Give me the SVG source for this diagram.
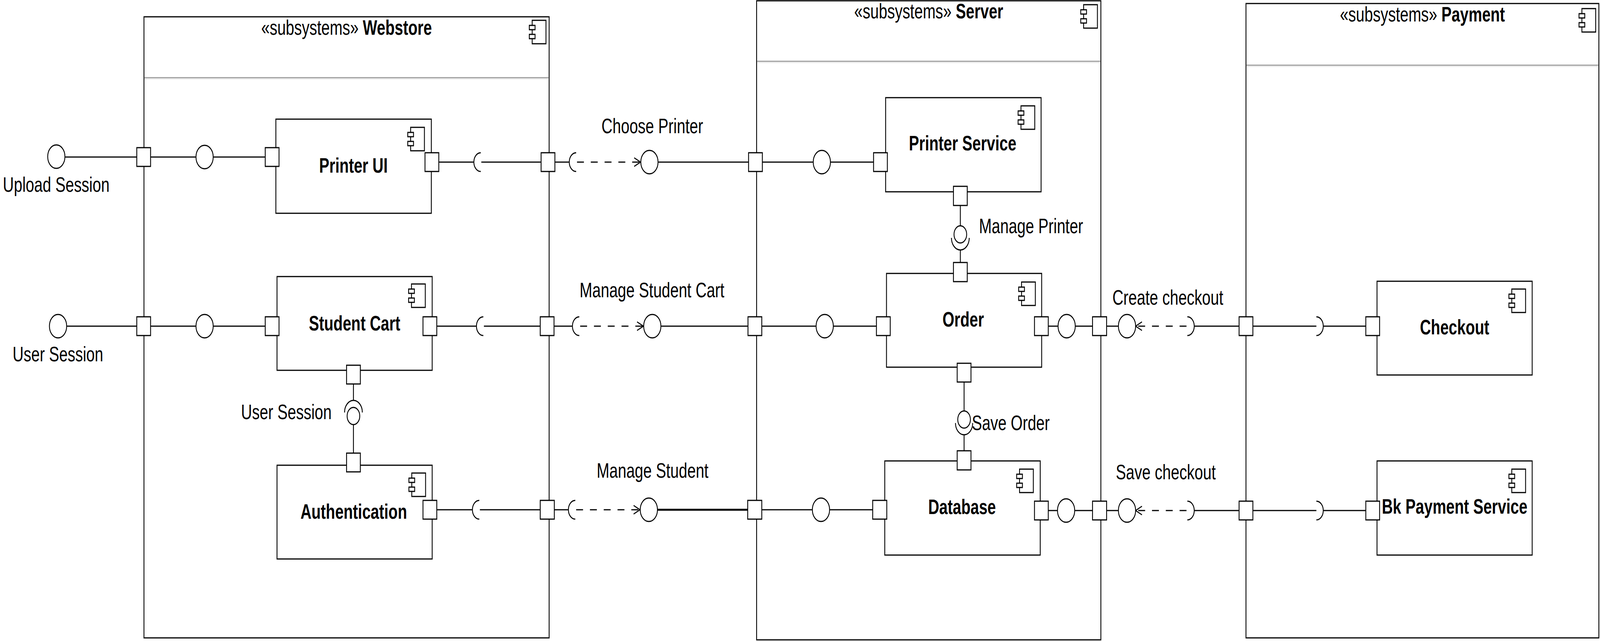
<svg xmlns="http://www.w3.org/2000/svg" xmlns:xlink="http://www.w3.org/1999/xlink" width="5568" height="1641" viewBox="0 0 5568 1641" preserveAspectRatio="none">
<style>
svg{width:100vw;height:100vh;display:block}
.box{fill:#fff;stroke:#000;stroke-width:3}
.port{fill:#fff;stroke:#000;stroke-width:3}
.ln{fill:none;stroke:#000;stroke-width:3}
.ball{fill:#fff;stroke:#000;stroke-width:3}
.dash{fill:none;stroke:#000;stroke-width:3;stroke-dasharray:24 24}
.sep{stroke:#9a9a9a;stroke-width:3}
.sep2{stroke:#ececec;stroke-width:3}
.t{font-family:"Liberation Sans",Arial,sans-serif;font-size:53px;fill:#000}
.bd{font-weight:bold}
</style>
<defs>
<g id="ic" fill="#fff" stroke="#000" stroke-width="3">
<rect x="10" y="0" width="48" height="60"/>
<rect x="0" y="13" width="20" height="11"/>
<rect x="0" y="36" width="20" height="11"/>
</g>
<marker id="arr" markerUnits="userSpaceOnUse" markerWidth="40" markerHeight="40" viewBox="-30 -20 40 40" refX="0" refY="0" orient="auto">
<path d="M-22,-11 L0,0 L-22,11" fill="none" stroke="#000" stroke-width="3" stroke-dasharray="none"/>
</marker>
</defs>
<rect width="5568" height="1641" fill="#fff"/>

<g id="webstore">
<rect class="box" x="501" y="43" width="1410" height="1590"/>
<line class="sep" x1="503" y1="199" x2="1909" y2="199"/>
<line class="sep2" x1="503" y1="202" x2="1909" y2="202"/>
<text class="t" x="1206" y="89" text-anchor="middle">«subsystems» <tspan class="bd">Webstore</tspan></text>
<use xlink:href="#ic" x="1842" y="52"/>
</g>
<g id="server">
<rect class="box" x="2633" y="2" width="1198" height="1636"/>
<line class="sep" x1="2635" y1="157" x2="3829" y2="157"/>
<line class="sep2" x1="2635" y1="160" x2="3829" y2="160"/>
<text class="t" x="3232" y="47" text-anchor="middle">«subsystems» <tspan class="bd">Server</tspan></text>
<use xlink:href="#ic" x="3761" y="12"/>
</g>
<g id="payment">
<rect class="box" x="4336" y="9" width="1228" height="1624"/>
<line class="sep" x1="4338" y1="167" x2="5562" y2="167"/>
<line class="sep2" x1="4338" y1="170" x2="5562" y2="170"/>
<text class="t" x="4950" y="55" text-anchor="middle">«subsystems» <tspan class="bd">Payment</tspan></text>
<use xlink:href="#ic" x="5495" y="22"/>
</g>

<g id="printer-ui">
<rect class="box" x="960" y="305" width="541" height="241"/>
<use xlink:href="#ic" x="1419" y="326"/>
<text class="t bd" x="1230" y="442" text-anchor="middle">Printer UI</text>
</g>
<g id="student-cart">
<rect class="box" x="964" y="708" width="540" height="240"/>
<use xlink:href="#ic" x="1422" y="727"/>
<text class="t bd" x="1234" y="846" text-anchor="middle">Student Cart</text>
</g>
<g id="authentication">
<rect class="box" x="964" y="1191" width="540" height="240"/>
<use xlink:href="#ic" x="1423" y="1211"/>
<text class="t bd" x="1231" y="1328" text-anchor="middle">Authentication</text>
</g>
<g id="printer-service">
<rect class="box" x="3082" y="250" width="541" height="241"/>
<use xlink:href="#ic" x="3543" y="271"/>
<text class="t bd" x="3350" y="385" text-anchor="middle">Printer Service</text>
</g>
<g id="order">
<rect class="box" x="3085" y="700" width="540" height="240"/>
<use xlink:href="#ic" x="3545" y="722"/>
<text class="t bd" x="3352" y="836" text-anchor="middle">Order</text>
</g>
<g id="database">
<rect class="box" x="3079" y="1180" width="541" height="241"/>
<use xlink:href="#ic" x="3538" y="1201"/>
<text class="t bd" x="3348" y="1316" text-anchor="middle">Database</text>
</g>
<g id="checkout">
<rect class="box" x="4792" y="720" width="540" height="240"/>
<use xlink:href="#ic" x="5251" y="740"/>
<text class="t bd" x="5062" y="856" text-anchor="middle">Checkout</text>
</g>
<g id="bk-payment-service">
<rect class="box" x="4792" y="1180" width="540" height="241"/>
<use xlink:href="#ic" x="5251" y="1201"/>
<text class="t bd" x="5062" y="1315" text-anchor="middle">Bk Payment Service</text>
</g>

<g id="connectors">
<line class="ln" x1="226" y1="402" x2="476" y2="402"/>
<line class="ln" x1="524" y1="402" x2="683" y2="402"/>
<line class="ln" x1="742" y1="402" x2="923" y2="402"/>
<line class="ln" x1="1527" y1="415" x2="1649" y2="415"/>
<path class="ln" d="M1673,391 A24,24 0 0 0 1673,439"/>
<line class="ln" x1="1675" y1="415" x2="1883" y2="415"/>
<line class="ln" x1="1931" y1="415" x2="1981" y2="415"/>
<path class="ln" d="M2005,391 A24,24 0 0 0 2005,439"/>
<line class="dash" x1="2008" y1="415" x2="2229" y2="415" marker-end="url(#arr)"/>
<line class="ln" x1="2290" y1="415" x2="2605" y2="415"/>
<line class="ln" x1="2653" y1="415" x2="2830" y2="415"/>
<line class="ln" x1="2890" y1="415" x2="3040" y2="415"/>
<line class="ln" x1="3342" y1="526" x2="3342" y2="578"/>
<path class="ln" d="M3311,609 A31,31 0 0 0 3373,609"/>
<line class="ln" x1="3342" y1="640" x2="3342" y2="672"/>
<line class="ln" x1="232" y1="835" x2="476" y2="835"/>
<line class="ln" x1="524" y1="835" x2="683" y2="835"/>
<line class="ln" x1="742" y1="835" x2="923" y2="835"/>
<line class="ln" x1="1520" y1="835" x2="1658" y2="835"/>
<path class="ln" d="M1682,811 A24,24 0 0 0 1682,859"/>
<line class="ln" x1="1684" y1="835" x2="1880" y2="835"/>
<line class="ln" x1="1928" y1="835" x2="1992" y2="835"/>
<path class="ln" d="M2016,811 A24,24 0 0 0 2016,859"/>
<line class="dash" x1="2019" y1="835" x2="2239" y2="835" marker-end="url(#arr)"/>
<line class="ln" x1="2300" y1="835" x2="2603" y2="835"/>
<line class="ln" x1="2651" y1="835" x2="2840" y2="835"/>
<line class="ln" x1="2900" y1="835" x2="3050" y2="835"/>
<line class="ln" x1="3648" y1="835" x2="3682" y2="835"/>
<line class="ln" x1="3742" y1="835" x2="3802" y2="835"/>
<line class="ln" x1="3851" y1="835" x2="3893" y2="835"/>
<line class="dash" x1="4129" y1="835" x2="3952" y2="835" marker-end="url(#arr)"/>
<path class="ln" d="M4132,811 A24,24 0 0 1 4132,859"/>
<line class="ln" x1="4156" y1="835" x2="4312" y2="835"/>
<line class="ln" x1="4360" y1="835" x2="4581" y2="835"/>
<path class="ln" d="M4581,811 A24,24 0 0 1 4581,859"/>
<line class="ln" x1="4605" y1="835" x2="4753" y2="835"/>
<line class="ln" x1="1230" y1="983" x2="1230" y2="1025"/>
<path class="ln" d="M1199,1056 A31,31 0 0 1 1261,1056"/>
<line class="ln" x1="1230" y1="1087" x2="1230" y2="1160"/>
<line class="ln" x1="3355" y1="978" x2="3355" y2="1052"/>
<path class="ln" d="M3325,1083 A30,30 0 0 0 3385,1083"/>
<line class="ln" x1="3355" y1="1113" x2="3355" y2="1154"/>
<line class="ln" x1="1520" y1="1305" x2="1644" y2="1305"/>
<path class="ln" d="M1668,1281 A24,24 0 0 0 1668,1329"/>
<line class="ln" x1="1670" y1="1305" x2="1880" y2="1305"/>
<line class="ln" x1="1929" y1="1305" x2="1978" y2="1305"/>
<path class="ln" d="M2002,1281 A24,24 0 0 0 2002,1329"/>
<line class="dash" x1="2005" y1="1305" x2="2227" y2="1305" marker-end="url(#arr)"/>
<line class="ln" x1="2288" y1="1305" x2="2602" y2="1305" style="stroke-width:5"/>
<line class="ln" x1="2651" y1="1305" x2="2827" y2="1305"/>
<line class="ln" x1="2887" y1="1305" x2="3037" y2="1305"/>
<line class="ln" x1="3648" y1="1307" x2="3680" y2="1307"/>
<line class="ln" x1="3740" y1="1307" x2="3802" y2="1307"/>
<line class="ln" x1="3851" y1="1307" x2="3893" y2="1307"/>
<line class="dash" x1="4129" y1="1307" x2="3952" y2="1307" marker-end="url(#arr)"/>
<path class="ln" d="M4132,1283 A24,24 0 0 1 4132,1331"/>
<line class="ln" x1="4156" y1="1307" x2="4312" y2="1307"/>
<line class="ln" x1="4360" y1="1307" x2="4581" y2="1307"/>
<path class="ln" d="M4581,1283 A24,24 0 0 1 4581,1331"/>
<line class="ln" x1="4605" y1="1307" x2="4753" y2="1307"/>
</g>

<g id="interfaces">
<circle class="ball" cx="196" cy="401" r="30"/>
<circle class="ball" cx="712" cy="402" r="30"/>
<circle class="ball" cx="2260" cy="415" r="30"/>
<circle class="ball" cx="2860" cy="415" r="30"/>
<circle class="ball" cx="3342" cy="600" r="22"/>
<circle class="ball" cx="202" cy="835" r="30"/>
<circle class="ball" cx="712" cy="835" r="30"/>
<circle class="ball" cx="2270" cy="835" r="30"/>
<circle class="ball" cx="2870" cy="835" r="30"/>
<circle class="ball" cx="3712" cy="835" r="30"/>
<circle class="ball" cx="3922" cy="835" r="30"/>
<circle class="ball" cx="1230" cy="1065" r="22"/>
<circle class="ball" cx="3355" cy="1074" r="22"/>
<circle class="ball" cx="2258" cy="1305" r="30"/>
<circle class="ball" cx="2857" cy="1305" r="30"/>
<circle class="ball" cx="3710" cy="1307" r="30"/>
<circle class="ball" cx="3922" cy="1307" r="30"/>
</g>

<g id="ports">
<rect class="port" x="476" y="378" width="48" height="48"/>
<rect class="port" x="923" y="378" width="48" height="48"/>
<rect class="port" x="1479" y="391" width="48" height="48"/>
<rect class="port" x="1883" y="391" width="48" height="48"/>
<rect class="port" x="2605" y="391" width="48" height="48"/>
<rect class="port" x="3040" y="391" width="48" height="48"/>
<rect class="port" x="3318" y="477" width="48" height="49"/>
<rect class="port" x="3318" y="672" width="48" height="49"/>
<rect class="port" x="476" y="811" width="48" height="48"/>
<rect class="port" x="923" y="811" width="48" height="48"/>
<rect class="port" x="1472" y="811" width="48" height="48"/>
<rect class="port" x="1880" y="811" width="48" height="48"/>
<rect class="port" x="2603" y="811" width="48" height="48"/>
<rect class="port" x="3050" y="811" width="48" height="48"/>
<rect class="port" x="3600" y="811" width="48" height="48"/>
<rect class="port" x="3802" y="811" width="49" height="48"/>
<rect class="port" x="4312" y="811" width="48" height="48"/>
<rect class="port" x="4753" y="811" width="48" height="48"/>
<rect class="port" x="1206" y="935" width="48" height="48"/>
<rect class="port" x="3331" y="930" width="48" height="48"/>
<rect class="port" x="1206" y="1160" width="48" height="48"/>
<rect class="port" x="3331" y="1154" width="48" height="49"/>
<rect class="port" x="1472" y="1281" width="48" height="48"/>
<rect class="port" x="1880" y="1281" width="49" height="48"/>
<rect class="port" x="2602" y="1281" width="49" height="48"/>
<rect class="port" x="3037" y="1281" width="49" height="48"/>
<rect class="port" x="3600" y="1283" width="48" height="48"/>
<rect class="port" x="3802" y="1283" width="49" height="48"/>
<rect class="port" x="4312" y="1283" width="48" height="48"/>
<rect class="port" x="4753" y="1283" width="48" height="48"/>
</g>

<g id="labels">
<text class="t" x="10" y="491">Upload Session</text>
<text class="t" x="44" y="925">User Session</text>
<text class="t" x="1154" y="1073" text-anchor="end">User Session</text>
<text class="t" x="2270" y="341" text-anchor="middle">Choose Printer</text>
<text class="t" x="2269" y="761" text-anchor="middle">Manage Student Cart</text>
<text class="t" x="2271" y="1223" text-anchor="middle">Manage Student</text>
<text class="t" x="3407" y="597">Manage Printer</text>
<text class="t" x="3382" y="1101">Save Order</text>
<text class="t" x="4064" y="780" text-anchor="middle">Create checkout</text>
<text class="t" x="4057" y="1227" text-anchor="middle">Save checkout</text>
</g>
</svg>
